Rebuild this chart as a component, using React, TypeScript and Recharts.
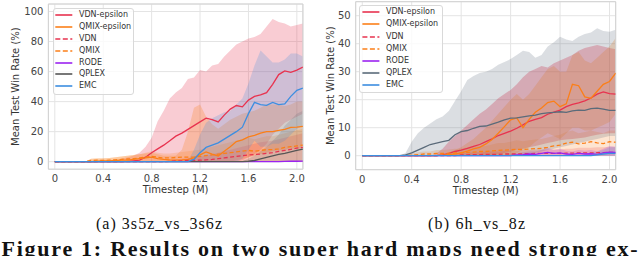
import React from 'react'
import { ComposedChart, Line, Area, XAxis, YAxis, CartesianGrid, Legend, ReferenceArea } from 'recharts'

document.body.style.margin = '0'

// timesteps in millions, one point every 0.05M
const steps = [
  0, 0.05, 0.1, 0.15, 0.2, 0.25, 0.3, 0.35, 0.4, 0.45,
  0.5, 0.55, 0.6, 0.65, 0.7, 0.75, 0.8, 0.85, 0.9, 0.95,
  1.0, 1.05, 1.1, 1.15, 1.2, 1.25, 1.3, 1.35, 1.4, 1.45,
  1.5, 1.55, 1.6, 1.65, 1.7, 1.75, 1.8, 1.85, 1.9, 1.95,
  2.0, 2.05,
]
const zeros = [
  0, 0, 0, 0, 0, 0, 0, 0, 0, 0,
  0, 0, 0, 0, 0, 0, 0, 0, 0, 0,
  0, 0, 0, 0, 0, 0, 0, 0, 0, 0,
  0, 0, 0, 0, 0, 0, 0, 0, 0, 0,
  0, 0,
]

const xTicks = [0, 0.4, 0.8, 1.2, 1.6, 2.0]
const yTicksA = [0, 20, 40, 60, 80, 100]
const yTicksB = [0, 10, 20, 30, 40, 50]

// ---- (a) 3s5z_vs_3s6z ----
const vdnEpsA = [
  0, 0, 0, 0, 0, 0, 0, 0, 0, 0,
  0, 0, 0.2, 0.6, 1, 3, 6, 8.5, 11, 14,
  17, 19, 21.5, 24, 26.5, 29, 28, 26.5, 31, 35,
  37.4, 36.5, 41, 43.5, 44.5, 46, 51.5, 58, 60.5, 59.5,
  61, 63,
]
const vdnEpsLoA = [
  0, 0, 0, 0, 0, 0, 0, 0, 0, 0,
  0, 0, 0, 0, 0, 0, 0, 0, 0, 0,
  0, 0, 0, 0, 0, 0, 0, 0, 0, 0,
  0, 1, 3, 5, 8, 12, 18, 22, 26, 28,
  30, 32,
]
const vdnEpsHiA = [
  0, 0, 0, 0, 0, 0, 0, 0, 0, 0,
  0.5, 2, 3, 4, 6, 10, 16, 27, 34, 42,
  46, 49, 55, 56, 61, 60, 64, 65, 70, 74,
  78, 80, 82, 83, 85, 90, 95, 93, 92, 90,
  91, 92,
]
const qmixEpsA = [
  0, 0, 0, 0, 0, 0, 0, 0.3, 0.5, 0.5,
  0.8, 1, 1, 1.5, 2, 2.5, 3, 2, 1.5, 1.2,
  1, 1.2, 1.5, 2.5, 4.5, 6.5, 5, 3.8, 7, 10,
  13.4, 14.5, 16.5, 17.5, 19, 20, 20, 20.8, 21.5, 22.8,
  23, 23.5,
]
const qmixEpsLoA = [
  0, 0, 0, 0, 0, 0, 0, 0, 0, 0,
  0, 0, 0, 0, 0, 0, 0, 0, 0, 0,
  0, 0, 0, 0, 0, 0, 0, 0, 0, 0,
  1, 2, 3, 4, 5, 6, 7, 7.5, 8, 8.5,
  9, 9,
]
const qmixEpsHiA = [
  0, 0, 0, 0, 0, 0, 2, 2, 2.5, 2.5,
  3, 3.5, 4, 4.5, 5, 5.5, 6, 5, 4, 4,
  4, 8, 20, 36, 38, 30, 25, 22, 25, 28,
  30, 32, 33, 34, 36, 38, 38, 38, 37, 38,
  40, 40,
]
const vdnA = [
  0, 0, 0, 0, 0, 0, 0, 0, 0, 0,
  0, 0, 0, 0, 0, 0, 0, 0, 0, 0.3,
  0.5, 0.6, 0.8, 0.9, 1, 1.2, 1.5, 2, 2.5, 3,
  3.5, 4, 4.5, 4.8, 5, 5.5, 6, 6.8, 7.5, 8.2,
  9, 9.5,
]
const vdnHiA = [
  0, 0, 0, 0, 0, 0, 0, 0, 0, 0,
  0, 0, 0, 0, 0, 0, 0, 0, 0, 1,
  1.5, 2, 2.5, 3, 3.5, 4, 5, 6, 7, 8,
  9, 10, 11, 12, 13, 13.5, 14, 15, 16, 17,
  18, 19,
]
const qmixA = [
  0, 0, 0, 0, 0, 0, 0.8, 1, 0.8, 1,
  1.2, 1.5, 1.8, 2, 2.5, 3, 3.5, 3, 2.5, 2.5,
  2.8, 3, 3, 3.2, 3.5, 4, 4.5, 5, 5.5, 6,
  6.5, 7, 7.5, 7, 7.5, 8, 8, 8.5, 9.5, 10,
  10.5, 11,
]
const qmixHiA = [
  0, 0, 0, 0, 0, 0, 2, 2.5, 2, 2.5,
  3, 3.5, 4, 4.5, 5, 6, 7, 6, 5.5, 5.5,
  6, 6.5, 7, 7.5, 8, 9, 10, 11, 12, 13,
  14, 15, 16, 15, 16, 17, 17, 18, 19, 20,
  21, 22,
]
const rodeA = [
  0, 0, 0, 0, 0, 0, 0, 0, 0, 0,
  0, 0, 0, 0, 0, 0, 0, 0, 0, 0,
  0, 0, 0, 0, 0, 0, 0, 0, 0, 0,
  0, 0, 0, 0, 0, 0, 0, 0, 0.2, 0.3,
  0.3, 0.4,
]
const qplexA = [
  0, 0, 0, 0, 0, 0, 0, 0, 0, 0,
  0, 0, 0, 0, 0, 0, 0, 0, 0, 0,
  0, 0, 0, 0, 0, 0, 0, 0, 0, 0,
  0, 0, 0.3, 0.8, 1.8, 2.8, 3.8, 4.8, 5.5, 6.5,
  7.5, 8.3,
]
const qplexHiA = [
  0, 0, 0, 0, 0, 0, 0, 0, 0, 0,
  0, 0, 0, 0, 0, 0, 0, 0, 0, 0,
  0, 0, 0, 0, 0, 0, 0, 0, 0, 0,
  0, 0.5, 2, 4, 7, 10, 14, 18, 24, 28,
  32, 34,
]
const emcA = [
  0, 0, 0, 0, 0, 0, 0, 0, 0, 0,
  0, 0, 0, 0, 0, 0, 0, 0, 0, 0,
  0, 0, 0, 1.5, 6, 9.5, 11, 12.5, 15, 17.5,
  20, 23, 32, 39.5, 38, 37.5, 39.5, 38, 38.5, 43.5,
  47.5, 49,
]
const emcLoA = [
  0, 0, 0, 0, 0, 0, 0, 0, 0, 0,
  0, 0, 0, 0, 0, 0, 0, 0, 0, 0,
  0, 0, 0, 0, 0, 0, 0, 0, 0, 0,
  0, 2, 8, 14, 10, 10, 12, 12, 14, 18,
  22, 24,
]
const emcHiA = [
  0, 0, 0, 0, 0, 0, 0, 0, 0, 0,
  0, 0, 0, 0, 0, 0, 0, 0, 0, 0,
  0, 0, 0.5, 8, 18, 26, 29, 31, 33, 34,
  38, 42, 52, 64, 74, 70, 66, 66, 68, 72,
  72, 70,
]

// ---- (b) 6h_vs_8z ----
const vdnEpsB = [
  0, 0, 0, 0, 0, 0, 0, 0, 0, 0,
  0, 0, 0, 0.3, 0.8, 1.5, 2, 2.6, 3.3, 4,
  5, 6, 7.2, 8, 8.8, 9.8, 11, 12.3, 13, 13.6,
  14.8, 15.6, 16.3, 17.5, 18.3, 18.9, 19.6, 20.6, 22, 22.8,
  22.2, 22,
]
const vdnEpsLoB = [
  0, 0, 0, 0, 0, 0, 0, 0, 0, 0,
  0, 0, 0, 0, 0, 0, 0, 0, 0, 0,
  0, 0, 0.5, 1, 1.5, 2, 2.5, 3, 3.5, 4,
  4.5, 5, 5.5, 5.8, 6, 6.2, 6.5, 7, 7.5, 7.8,
  8, 8,
]
const vdnEpsHiB = [
  0, 0, 0, 0, 0, 0, 0, 0, 0, 0,
  0, 0, 0.8, 2.5, 5, 7, 9, 11, 13, 15,
  16.5, 18.5, 20.5, 22, 23.5, 25.5, 28, 30, 31, 32,
  31.5, 33, 34, 35, 36, 37.5, 38.5, 39, 39.5, 39,
  38.5, 38,
]
const qmixEpsB = [
  0, 0, 0, 0, 0, 0, 0, 0, 0, 0,
  0, 0, 0, 0.2, 0.4, 0.6, 1, 1.6, 2.4, 3,
  4.2, 5.8, 8, 10.4, 12.8, 13.5, 10, 13, 15.5, 17,
  19, 19.5, 17.5, 18.5, 25.5, 25, 21, 20.5, 23, 25.5,
  26.5, 29.5,
]
const qmixEpsLoB = [
  0, 0, 0, 0, 0, 0, 0, 0, 0, 0,
  0, 0, 0, 0, 0, 0, 0, 0, 0, 0,
  0, 0, 0, 0, 0, 1, 2, 3, 5, 6.5,
  8, 7, 6, 8, 10, 10, 9, 9, 10, 11,
  12, 15,
]
const qmixEpsHiB = [
  0, 0, 0, 0, 0, 0, 0, 0, 0, 0,
  0, 0, 0, 0, 1, 2, 3, 4.5, 6, 8,
  10, 12.5, 15, 17.5, 20, 22, 20, 22, 25, 28,
  31, 32, 30, 30, 36, 37, 34, 33, 35, 37,
  39, 42,
]
const vdnB = [
  0, 0, 0, 0, 0, 0, 0, 0, 0, 0,
  0, 0, 0, 0, 0, 0, 0.3, 0.3, 0.4, 0.4,
  0.5, 0.5, 0.5, 0.6, 0.6, 0.6, 0.7, 0.7, 0.8, 0.8,
  0.8, 0.8, 0.8, 0.9, 0.9, 1, 1, 1, 1.1, 1.1,
  1.2, 1.2,
]
const vdnHiB = [
  0, 0, 0, 0, 0, 0, 0, 0, 0, 0,
  0, 0, 0, 0, 0, 0, 1, 1, 1.2, 1.2,
  1.5, 1.5, 1.5, 1.8, 1.8, 1.8, 2, 2, 2.2, 2.2,
  2.2, 2.2, 2.2, 2.5, 2.5, 2.8, 2.8, 2.8, 3, 3,
  3.2, 3.2,
]
const qmixB = [
  0, 0, 0, 0, 0, 0, 0, 0, 0.2, 0.4,
  0.6, 0.6, 0.8, 0.8, 0.9, 1, 1, 1.2, 1.3, 1.5,
  1.5, 1.7, 1.9, 2, 2.1, 2.3, 2.2, 2.4, 2.5, 2.6,
  3, 3.5, 3.8, 4.5, 4.8, 4.2, 4.5, 5, 4.6, 4.3,
  5, 4.8,
]
const qmixHiB = [
  0, 0, 0, 0, 0, 0, 0, 0, 0.8, 1.2,
  1.5, 1.5, 2, 2, 2.2, 2.5, 2.5, 3, 3.2, 3.5,
  3.5, 4, 4.5, 4.5, 5, 5.5, 5.2, 5.5, 5.8, 6,
  6.5, 7, 7.5, 8.5, 9, 8, 8.5, 9, 8.5, 8,
  9, 9,
]
const rodeB = [
  0, 0, 0, 0, 0, 0, 0, 0, 0, 0,
  0, 0, 0, 0, 0, 0, 0, 0, 0, 0,
  0, 0, 0, 0, 0, 0.3, 0.4, 0.6, 0.5, 0.8,
  1.2, 0.8, 1, 0.6, 0.5, 0.8, 0.6, 0.7, 0.5, 1,
  1.3, 1.2,
]
const rodeHiB = [
  0, 0, 0, 0, 0, 0, 0, 0, 0, 0,
  0, 0, 0, 0, 0, 0, 0, 0, 0, 0,
  0, 0, 0, 0, 0.5, 1, 1.2, 1.5, 1.5, 2,
  2.8, 2, 2.5, 1.8, 1.5, 2, 1.8, 2, 1.5, 2.5,
  3.5, 3.2,
]
const qplexB = [
  0, 0, 0, 0, 0, 0, 0, 0.3, 1, 2,
  3, 4, 4.5, 5, 5.5, 7.5, 8.6, 9, 9.8, 10.5,
  10.6, 11.3, 12, 12.8, 13.4, 13.5, 13.9, 14.2, 14.5, 15,
  15.3, 15.5, 15.7, 15.5, 16, 16.3, 16.2, 16.8, 17, 16.6,
  16.2, 16.2,
]
const qplexLoB = [
  0, 0, 0, 0, 0, 0, 0, 0, 0, 0,
  0, 0, 0, 0, 0, 0, 0, 0, 0, 0,
  0, 0, 0, 0, 0, 0, 0, 0.5, 1, 1.5,
  2, 2.5, 3, 3.5, 4, 4.5, 5, 5.5, 6, 6.5,
  7, 7,
]
const qplexHiB = [
  0, 0, 0, 0, 0, 0, 0, 1, 5, 8,
  10, 11.5, 13, 14, 16, 19.5, 23, 27, 28.5, 29.5,
  30, 31, 32.5, 33.5, 34.5, 36, 37.5, 37, 35, 36,
  39, 40.5, 42.5, 41.5, 41, 42.5, 43.5, 44, 45.5, 44.5,
  44.3, 45,
]
const emcB = [
  0, 0, 0, 0, 0, 0, 0, 0, 0, 0,
  0, 0, 0, 0, 0, 0, 0, 0, 0, 0,
  0, 0, 0, 0, 0, 0, 0, 0, 0, 0,
  0, 0, 0, 0, 0, 0, 0, 0, 0.3, 0.6,
  0.8, 0.8,
]
const emcHiB = [
  0, 0, 0, 0, 0, 0, 0, 0, 0, 0,
  0, 0, 0, 0, 0, 0, 0, 0, 0, 0,
  0, 0, 0, 0, 0, 0, 0, 0, 0, 0,
  0, 0, 0, 0, 0, 0, 0.5, 1, 1.5, 2,
  3, 3,
]

const RED = '#e8334f'
const ORANGE = '#fb7f18'
const PURPLE = '#9b23f0'
const BLUE = '#3d8ee0'

type Series = {
  key: string; name: string; color: string; dash?: boolean; alpha: number
  mean: number[]; lo: number[]; hi: number[]
}

const seriesA: Series[] = [
  { key: 'vdnEps', name: 'VDN-epsilon', color: RED, alpha: 0.25, mean: vdnEpsA, lo: vdnEpsLoA, hi: vdnEpsHiA },
  { key: 'qmixEps', name: 'QMIX-epsilon', color: ORANGE, alpha: 0.25, mean: qmixEpsA, lo: qmixEpsLoA, hi: qmixEpsHiA },
  { key: 'vdn', name: 'VDN', color: RED, dash: true, alpha: 0.2, mean: vdnA, lo: zeros, hi: vdnHiA },
  { key: 'qmix', name: 'QMIX', color: ORANGE, dash: true, alpha: 0.2, mean: qmixA, lo: zeros, hi: qmixHiA },
  { key: 'rode', name: 'RODE', color: PURPLE, alpha: 0.2, mean: rodeA, lo: zeros, hi: zeros },
  { key: 'qplex', name: 'QPLEX', color: '#555555', alpha: 0.18, mean: qplexA, lo: zeros, hi: qplexHiA },
  { key: 'emc', name: 'EMC', color: BLUE, alpha: 0.22, mean: emcA, lo: emcLoA, hi: emcHiA },
]

const seriesB: Series[] = [
  { key: 'vdnEps', name: 'VDN-epsilon', color: RED, alpha: 0.32, mean: vdnEpsB, lo: vdnEpsLoB, hi: vdnEpsHiB },
  { key: 'qmixEps', name: 'QMIX-epsilon', color: ORANGE, alpha: 0.25, mean: qmixEpsB, lo: qmixEpsLoB, hi: qmixEpsHiB },
  { key: 'vdn', name: 'VDN', color: RED, dash: true, alpha: 0.2, mean: vdnB, lo: zeros, hi: vdnHiB },
  { key: 'qmix', name: 'QMIX', color: ORANGE, dash: true, alpha: 0.2, mean: qmixB, lo: zeros, hi: qmixHiB },
  { key: 'rode', name: 'RODE', color: PURPLE, alpha: 0.2, mean: rodeB, lo: zeros, hi: rodeHiB },
  { key: 'qplex', name: 'QPLEX', color: '#5b6b7a', alpha: 0.22, mean: qplexB, lo: qplexLoB, hi: qplexHiB },
  { key: 'emc', name: 'EMC', color: BLUE, alpha: 0.2, mean: emcB, lo: zeros, hi: emcHiB },
]

function buildData(series: Series[]) {
  return steps.map((t, i) => {
    const row: Record<string, any> = { t }
    series.forEach((s) => {
      row[s.key] = s.mean[i]
      row[s.key + 'Band'] = [s.lo[i], s.hi[i]]
    })
    return row
  })
}

const X_MIN = -0.053
const X_MAX = 2.05
const fmtX = (v: number) => (v === 0 ? '0' : v.toFixed(1))

type Box = { left: number; top: number; w: number; h: number; first: number; gap: number; swX: number; textX: number }

function LegendBox({ series, box }: { series: Series[]; box: Box }) {
  return (
    <div
      style={{
        position: 'relative', width: box.w, height: box.h, boxSizing: 'border-box',
        border: '1px solid #d9d9d9', borderRadius: 3, background: 'rgba(255,255,255,0.8)',
      }}
    >
      {series.map((s, i) => (
        <div key={s.key} style={{ position: 'absolute', left: -1, top: box.first + i * box.gap - 7, height: 12, width: box.w }}>
          <svg width={box.swX + 20} height={12} style={{ position: 'absolute', left: 0, top: 0 }}>
            <line x1={box.swX} x2={box.swX + 17} y1={6} y2={6} stroke={s.color} strokeWidth={1.6}
              strokeDasharray={s.dash ? '5 2.5' : undefined} />
          </svg>
          <span style={{ position: 'absolute', left: box.textX, top: 0, lineHeight: '12px', fontSize: 8, color: '#333', whiteSpace: 'nowrap' }}>
            {s.name}
          </span>
        </div>
      ))}
    </div>
  )
}

type PanelProps = {
  series: Series[]
  yDomain: [number, number]
  yTicks: number[]
  margin: { top: number; right: number; bottom: number; left: number }
  yWidth: number
  box: Box
  yLabelDx: number
  xLabelDy: number
}

function Panel({ series, yDomain, yTicks, margin, yWidth, box, yLabelDx, xLabelDy }: PanelProps) {
  const data = buildData(series)
  const tickStyle = { fill: '#444', fontSize: 10 }
  return (
    <ComposedChart width={320} height={205} data={data} margin={margin}>
      <CartesianGrid stroke="#e4e4e4" strokeWidth={1} />
      <XAxis
        type="number" dataKey="t" domain={[X_MIN, X_MAX]} ticks={xTicks} allowDataOverflow
        tickFormatter={fmtX} axisLine={false} tickLine={false} tickSize={4} tickMargin={2} height={31}
        tick={tickStyle}
        label={{ value: 'Timestep (M)', position: 'center', dy: xLabelDy, fill: '#333', fontSize: 10 }}
      />
      <YAxis
        type="number" domain={yDomain} ticks={yTicks} allowDataOverflow
        axisLine={false} tickLine={false} tickSize={3} tickMargin={2} width={yWidth}
        tick={tickStyle}
        label={{ value: 'Mean Test Win Rate (%)', angle: -90, position: 'center', dx: yLabelDx, fill: '#333', fontSize: 10 }}
      />
      {series.map((s) => (
        <Area key={s.key + 'Band'} type="linear" dataKey={s.key + 'Band'} stroke="none" fill={s.color}
          fillOpacity={s.alpha} isAnimationActive={false} legendType="none" activeDot={false} />
      ))}
      {series.map((s) => (
        <Line key={s.key} type="linear" dataKey={s.key} name={s.name} stroke={s.color} strokeWidth={1.3}
          strokeDasharray={s.dash ? '4 2.5' : undefined} dot={false} activeDot={false} isAnimationActive={false} />
      ))}
      <ReferenceArea x1={X_MIN} x2={X_MAX} y1={yDomain[0]} y2={yDomain[1]} fill="none" fillOpacity={0}
        stroke="#d2d2d2" strokeWidth={1} ifOverflow="visible" />
      <Legend
        layout="vertical" align="center" verticalAlign="middle"
        wrapperStyle={{ left: box.left, top: box.top, width: box.w, height: box.h }}
        content={() => <LegendBox series={series} box={box} />}
      />
    </ComposedChart>
  )
}

export default function App() {
  return (
    <div style={{ position: 'relative', width: 640, height: 256, overflow: 'hidden', background: '#fff', fontFamily: 'DejaVu Sans' }}>
      <div style={{ position: 'absolute', left: 0, top: 0 }}>
        <Panel
          series={seriesA} yDomain={[-5, 105]} yTicks={yTicksA}
          margin={{ top: 4, right: 17.1, bottom: 4.8, left: 0 }} yWidth={48.4}
          box={{ left: 52.7, top: 8.3, w: 81.6, h: 86.7, first: 6.7, gap: 11.9, swX: 2.3, textX: 26.3 }}
          yLabelDx={-9.2} xLabelDy={4.3}
        />
      </div>
      <div style={{ position: 'absolute', left: 320, top: 0 }}>
        <Panel
          series={seriesB} yDomain={[-5, 55]} yTicks={yTicksB}
          margin={{ top: 1.7, right: 24.3, bottom: 4.3, left: 0 }} yWidth={35.7}
          box={{ left: 39.3, top: 5, w: 84, h: 87.7, first: 7.3, gap: 12.1, swX: 3.4, textX: 26.7 }}
          yLabelDx={-7.2} xLabelDy={5.1}
        />
      </div>
      <svg width={640} height={256} style={{ position: 'absolute', left: 0, top: 0, pointerEvents: 'none' }}>
        <g fontFamily="'Liberation Serif', serif" fill="#111">
          <text x={96} y={228.5} fontSize={16} textLength={126} lengthAdjust="spacing">(a) 3s5z_vs_3s6z</text>
          <text x={428} y={228.5} fontSize={16} textLength={97} lengthAdjust="spacing">(b) 6h_vs_8z</text>
          <text x={1.5} y={255.5} fontSize={22} fontWeight="bold" textLength={636} lengthAdjust="spacing">
            Figure 1: Results on two super hard maps need strong ex-
          </text>
        </g>
      </svg>
    </div>
  )
}
